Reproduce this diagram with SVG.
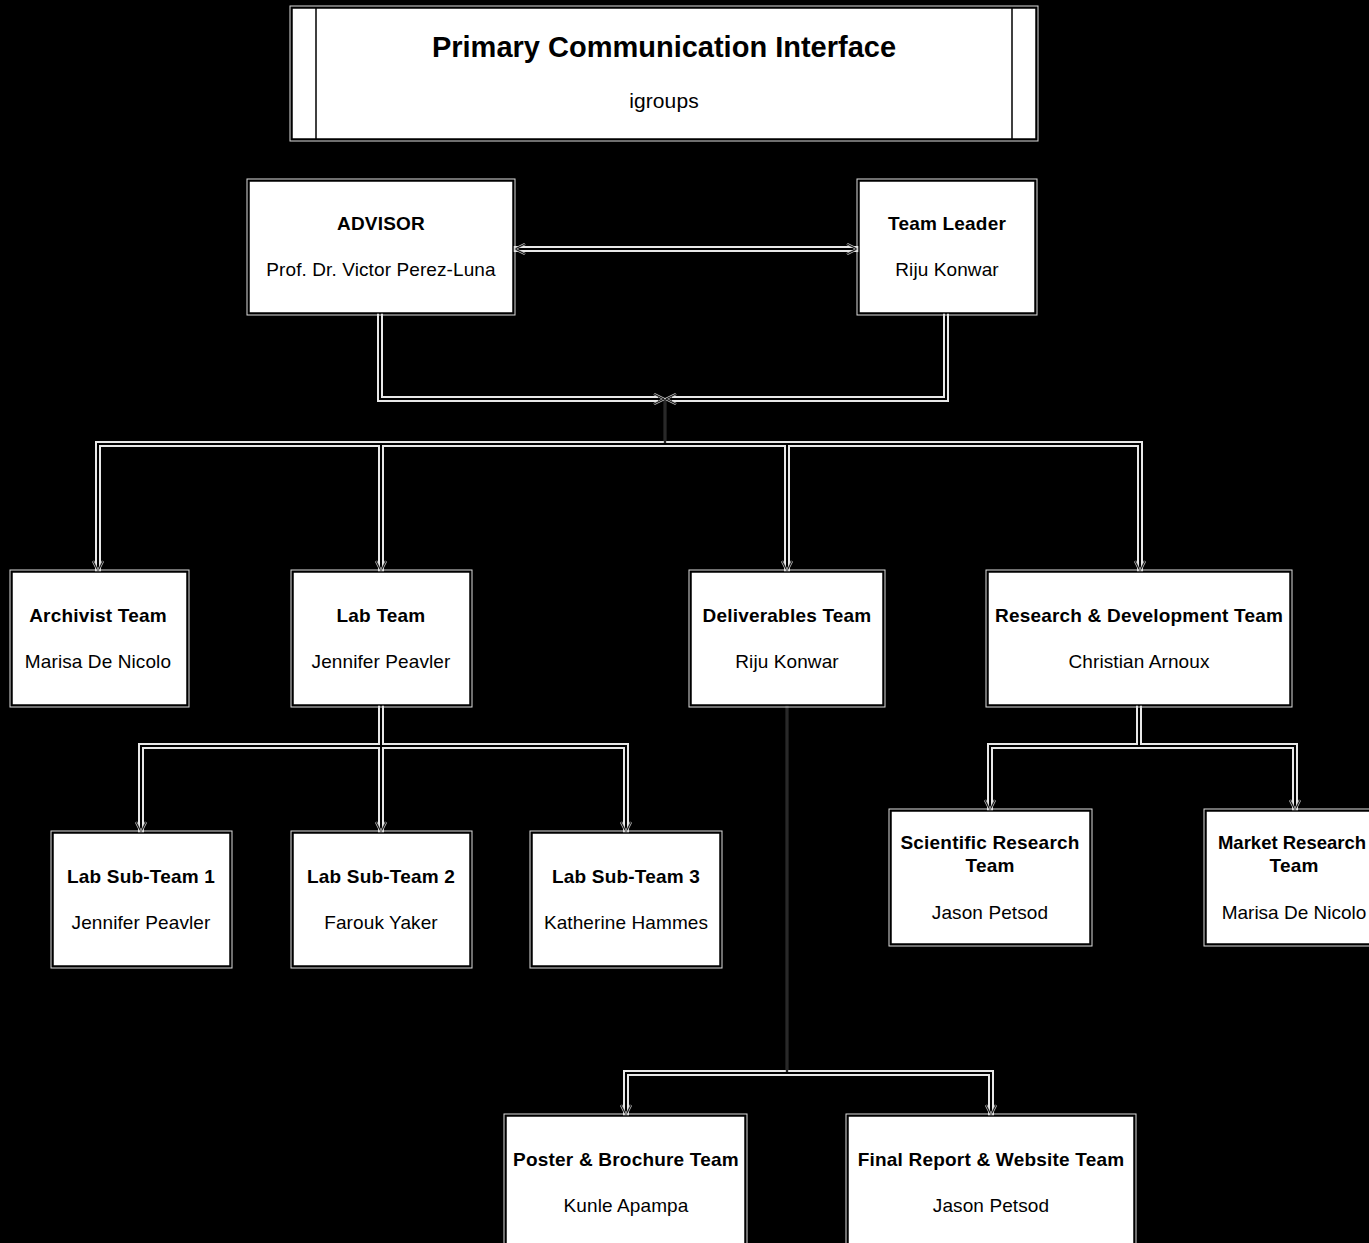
<svg xmlns="http://www.w3.org/2000/svg" width="1369" height="1243" viewBox="0 0 1369 1243">
<style>
.box{fill:#fff;stroke:#000;stroke-width:1.5}
.halo{fill:none;stroke:#ddd;stroke-width:1}
.t{font-family:"Liberation Sans",Arial,sans-serif;font-size:19px;letter-spacing:0.2px;font-weight:bold;text-anchor:middle;fill:#000}
.n{font-family:"Liberation Sans",Arial,sans-serif;font-size:19px;letter-spacing:0.1px;text-anchor:middle;fill:#000}
.cw{fill:none;stroke:#e8e8e8;stroke-width:6}
.cb{fill:none;stroke:#000;stroke-width:2}
.thin{fill:none;stroke:#666;stroke-width:2.5}
</style>
<defs>
<marker id="ah" viewBox="0 0 12 12" refX="11" refY="6" markerWidth="12" markerHeight="12" markerUnits="userSpaceOnUse" orient="auto">
<path d="M1,1 L11,6 L1,11" fill="none" stroke="#bbb" stroke-width="2.5"/>
<path d="M1,1 L11,6 L1,11" fill="none" stroke="#000" stroke-width="1"/>
</marker>
<marker id="as" viewBox="0 0 12 12" refX="1" refY="6" markerWidth="12" markerHeight="12" markerUnits="userSpaceOnUse" orient="auto">
<path d="M11,1 L1,6 L11,11" fill="none" stroke="#bbb" stroke-width="2.5"/>
<path d="M11,1 L1,6 L11,11" fill="none" stroke="#000" stroke-width="1"/>
</marker>
</defs>
<rect width="1369" height="1243" fill="#000"/>
<g id="connectors">
<g class="cw">
<path d="M513,249 H859"/>
<path d="M380,313 V399 H658"/>
<path d="M946,313 V399 H672"/>
<path d="M665,444 H98 V572"/>
<path d="M665,444 H1140 V572"/>
<path d="M381,444 V572"/>
<path d="M787,444 V572"/>
<path d="M381,705 V833"/>
<path d="M381,746 H141 V833"/>
<path d="M381,746 H626 V833"/>
<path d="M1139,705 V746 H990 V811"/>
<path d="M1139,746 H1295 V811"/>
<path d="M787,1073 H626 V1116"/>
<path d="M787,1073 H991 V1116"/>
</g>
<g class="thin">
<path d="M665,399 V444"/>
<path d="M787,705 V1073"/>
</g>
<g class="cb">
<path d="M515,249 H857" marker-start="url(#as)" marker-end="url(#ah)"/>
<path d="M380,313 V399 H664" marker-end="url(#ah)"/>
<path d="M946,313 V399 H666" marker-end="url(#ah)"/>
<path d="M665,444 H98 V571" marker-end="url(#ah)"/>
<path d="M665,444 H1140 V571" marker-end="url(#ah)"/>
<path d="M381,444 V571" marker-end="url(#ah)"/>
<path d="M787,444 V571" marker-end="url(#ah)"/>
<path d="M381,705 V832" marker-end="url(#ah)"/>
<path d="M381,746 H141 V832" marker-end="url(#ah)"/>
<path d="M381,746 H626 V832" marker-end="url(#ah)"/>
<path d="M1139,705 V746 H990 V810" marker-end="url(#ah)"/>
<path d="M1139,746 H1295 V810" marker-end="url(#ah)"/>
<path d="M787,1073 H626 V1115" marker-end="url(#ah)"/>
<path d="M787,1073 H991 V1115" marker-end="url(#ah)"/>
<path d="M665,399 V444" stroke-width="1.2"/>
<path d="M787,705 V1073" stroke-width="1.2"/>
</g>
</g>
<g id="primary">
<rect class="halo" x="290" y="6" width="748" height="135"/>
<rect class="box" x="292" y="8" width="744" height="131"/>
<line x1="316" y1="8" x2="316" y2="139" stroke="#000" stroke-width="1.5"/>
<line x1="1012" y1="8" x2="1012" y2="139" stroke="#000" stroke-width="1.5"/>
<text class="t" x="664" y="57" style="font-size:29px;letter-spacing:0">Primary Communication Interface</text>
<text class="n" x="664" y="108" style="font-size:21px">igroups</text>
</g>
<g id="advisor">
<rect class="halo" x="247" y="179" width="268" height="136"/>
<rect class="box" x="249" y="181" width="264" height="132"/>
<text class="t" x="381" y="230">ADVISOR</text>
<text class="n" x="381" y="276">Prof. Dr. Victor Perez-Luna</text>
</g>
<g id="team-leader">
<rect class="halo" x="857" y="179" width="180" height="136"/>
<rect class="box" x="859" y="181" width="176" height="132"/>
<text class="t" x="947" y="230">Team Leader</text>
<text class="n" x="947" y="276">Riju Konwar</text>
</g>
<g id="archivist">
<rect class="halo" x="10" y="570" width="179" height="137"/>
<rect class="box" x="12" y="572" width="175" height="133"/>
<text class="t" x="98" y="622">Archivist Team</text>
<text class="n" x="98" y="668">Marisa De Nicolo</text>
</g>
<g id="lab-team">
<rect class="halo" x="291" y="570" width="181" height="137"/>
<rect class="box" x="293" y="572" width="177" height="133"/>
<text class="t" x="381" y="622">Lab Team</text>
<text class="n" x="381" y="668">Jennifer Peavler</text>
</g>
<g id="deliverables">
<rect class="halo" x="689" y="570" width="196" height="137"/>
<rect class="box" x="691" y="572" width="192" height="133"/>
<text class="t" x="787" y="622">Deliverables Team</text>
<text class="n" x="787" y="668">Riju Konwar</text>
</g>
<g id="rnd">
<rect class="halo" x="986" y="570" width="306" height="137"/>
<rect class="box" x="988" y="572" width="302" height="133"/>
<text class="t" x="1139" y="622">Research &amp; Development Team</text>
<text class="n" x="1139" y="668">Christian Arnoux</text>
</g>
<g id="lab-sub-1">
<rect class="halo" x="51" y="831" width="181" height="137"/>
<rect class="box" x="53" y="833" width="177" height="133"/>
<text class="t" x="141" y="883">Lab Sub-Team 1</text>
<text class="n" x="141" y="929">Jennifer Peavler</text>
</g>
<g id="lab-sub-2">
<rect class="halo" x="291" y="831" width="181" height="137"/>
<rect class="box" x="293" y="833" width="177" height="133"/>
<text class="t" x="381" y="883">Lab Sub-Team 2</text>
<text class="n" x="381" y="929">Farouk Yaker</text>
</g>
<g id="lab-sub-3">
<rect class="halo" x="530" y="831" width="192" height="137"/>
<rect class="box" x="532" y="833" width="188" height="133"/>
<text class="t" x="626" y="883">Lab Sub-Team 3</text>
<text class="n" x="626" y="929">Katherine Hammes</text>
</g>
<g id="scientific">
<rect class="halo" x="889" y="809" width="203" height="137"/>
<rect class="box" x="891" y="811" width="199" height="133"/>
<text class="t" x="990" y="849">Scientific Research</text>
<text class="t" x="990" y="872">Team</text>
<text class="n" x="990" y="919">Jason Petsod</text>
</g>
<g id="market">
<rect class="halo" x="1204" y="809" width="182" height="137"/>
<rect class="box" x="1206" y="811" width="178" height="133"/>
<text class="t" x="1292" y="849" style="letter-spacing:0;font-size:18.5px">Market Research</text>
<text class="t" x="1294" y="872">Team</text>
<text class="n" x="1294" y="919" style="letter-spacing:0">Marisa De Nicolo</text>
</g>
<g id="poster">
<rect class="halo" x="504" y="1114" width="243" height="150"/>
<rect class="box" x="506" y="1116" width="239" height="146"/>
<text class="t" x="626" y="1166">Poster &amp; Brochure Team</text>
<text class="n" x="626" y="1212">Kunle Apampa</text>
</g>
<g id="final-report">
<rect class="halo" x="846" y="1114" width="290" height="150"/>
<rect class="box" x="848" y="1116" width="286" height="146"/>
<text class="t" x="991" y="1166">Final Report &amp; Website Team</text>
<text class="n" x="991" y="1212">Jason Petsod</text>
</g>
</svg>
